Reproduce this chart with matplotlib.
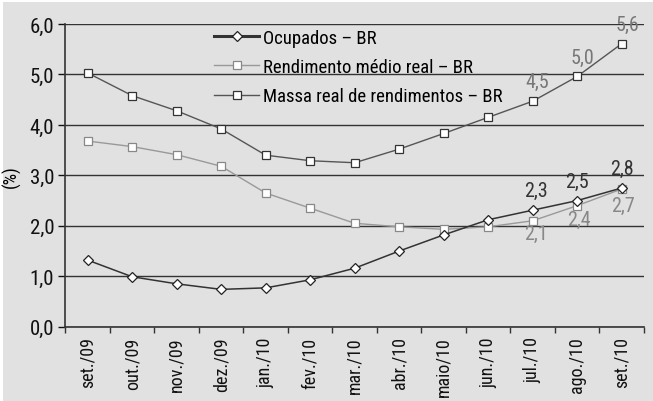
import numpy as np
import matplotlib.pyplot as plt

plt.rcParams['font.family'] = ['Roboto Condensed', 'DejaVu Sans']

meses = ['set./09', 'out./09', 'nov./09', 'dez./09', 'jan./10', 'fev./10', 'mar./10',
         'abr./10', 'maio/10', 'jun./10', 'jul./10', 'ago./10', 'set./10']
ocupados = [1.32, 0.99, 0.85, 0.74, 0.77, 0.93, 1.16, 1.50, 1.82, 2.12, 2.31, 2.50, 2.75]
rendimento = [3.68, 3.57, 3.41, 3.18, 2.65, 2.35, 2.05, 1.98, 1.93, 1.98, 2.10, 2.40, 2.73]
massa = [5.03, 4.58, 4.28, 3.92, 3.40, 3.29, 3.25, 3.52, 3.83, 4.15, 4.47, 4.96, 5.61]

bg = '#e1e1e1'
fig = plt.figure(figsize=(6.53, 4.02), dpi=100, facecolor='white')
fig.patches.append(plt.Rectangle((3 / 653, 0), 1, 1 - 3 / 402, transform=fig.transFigure,
                                 facecolor=bg, edgecolor='none', zorder=-10))
ax = fig.add_axes([0.1002, 0.1848, 0.886, 0.753])
ax.set_facecolor(bg)

x = np.arange(len(meses))
ax.plot(x, ocupados, color='#333333', lw=1.1, marker='D', ms=5, mfc='white', mec='#222222', mew=0.9,
        label='Ocupados – BR', zorder=5)
ax.plot(x, rendimento, color='#999999', lw=1.0, marker='s', ms=6, mfc='white', mec='#888888', mew=0.9,
        label='Rendimento médio real – BR', zorder=4)
ax.plot(x, massa, color='#555555', lw=1.0, marker='s', ms=6, mfc='white', mec='#333333', mew=0.9,
        label='Massa real de rendimentos – BR', zorder=4)

ax.set_xlim(-0.5, 12.5)
ax.set_ylim(0, 6)
ax.set_yticks(np.arange(0, 6.1, 1))
ax.set_yticklabels([f'{v:.1f}'.replace('.', ',') for v in np.arange(0, 6.1, 1)], fontsize=15)
ax.set_xticks(x)
ax.set_xticklabels(meses, rotation=90, fontsize=13)
ax.set_xticks(np.arange(-0.5, 13, 1), minor=True)
ax.tick_params(axis='x', which='major', length=0, pad=7)
ax.tick_params(axis='x', which='minor', length=4, width=1, color='#333333', direction='out')
ax.tick_params(axis='y', length=5, width=1, color='#333333', pad=3)
ax.tick_params(colors='#111111', which='major')
ax.yaxis.grid(True, color='#333333', lw=1)
ax.set_axisbelow(True)
for s in ['top', 'right']:
    ax.spines[s].set_visible(False)
for s in ['left', 'bottom']:
    ax.spines[s].set_color('#333333')
    ax.spines[s].set_linewidth(1.2)
ax.set_ylabel('(%)', fontsize=13, labelpad=6)

# rótulos de valores
for i, dx, dy in [(10, 3, 14), (11, 4, 14), (12, 4, 14)]:
    ax.annotate(f'{massa[i]:.1f}'.replace('.', ','), (x[i], massa[i]), xytext=(dx, dy),
                textcoords='offset points', ha='center', va='center', fontsize=14.5, color='#777777')
for i, dx, dy in [(10, 2, 14), (11, 0, 14), (12, 0, 14)]:
    ax.annotate(f'{ocupados[i]:.1f}'.replace('.', ','), (x[i], ocupados[i]), xytext=(dx, dy),
                textcoords='offset points', ha='center', va='center', fontsize=14.5, color='#333333')
for i, dx, dy in [(10, 2, -9), (11, 1, -10), (12, 1, -12)]:
    ax.annotate(f'{rendimento[i]:.1f}'.replace('.', ','), (x[i], rendimento[i]), xytext=(dx, dy),
                textcoords='offset points', ha='center', va='center', fontsize=14.5, color='#888888')

leg = ax.legend(loc='upper left', bbox_to_anchor=(0.228, 1.04), frameon=False, fontsize=13.5,
                handlelength=2.4, handletextpad=0.2, labelspacing=0.6)
leg.legend_handles[0].set_linewidth(2.2)

fig.text(0.06, -0.03, 'Figura 3: Brasil – Total de ocupados, rendimento médio real e massa real',
         fontsize=17, color='#111111', va='center', ha='left')

fig.savefig('out.png', dpi=100, facecolor='white')
